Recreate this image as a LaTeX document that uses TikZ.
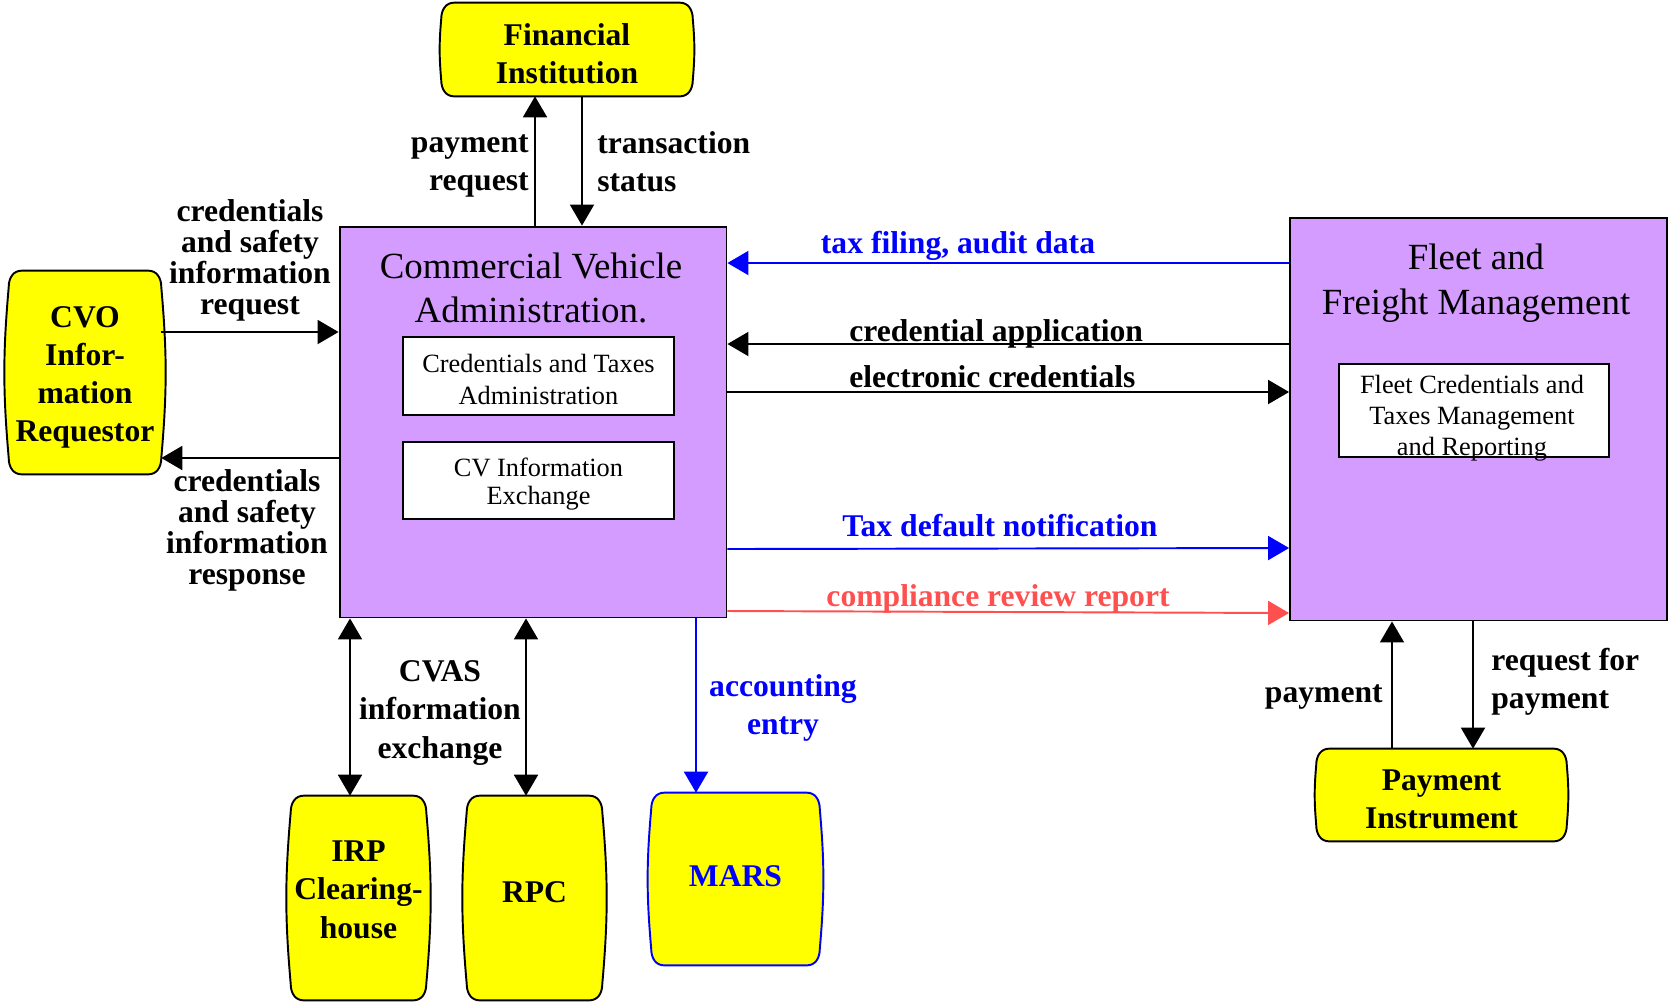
\documentclass[tikz,border=0pt]{standalone}
\usepackage{fontspec}
\setmainfont{Liberation Serif}
\usetikzlibrary{arrows.meta,calc,backgrounds}
\definecolor{cvpurple}{RGB}{213,156,255}
\definecolor{termyellow}{RGB}{255,255,0}
\definecolor{arrblue}{RGB}{0,0,255}
\definecolor{arrred}{RGB}{255,80,80}
\newcommand\termbox[2][black]{%
  \begin{scope}[on background layer]
  \path[draw=#1, fill=termyellow, line width=1.1pt]
    let \p1=(#2.north west), \p2=(#2.south east) in
    (\x1+0.26cm,\y1) -- (\x2-0.26cm,\y1)
    .. controls (\x2-0.1cm,\y1) and (\x2,\y1-0.13cm) .. (\x2,\y1-0.34cm)
    to[bend left=5] (\x2,\y2+0.34cm)
    .. controls (\x2,\y2+0.13cm) and (\x2-0.1cm,\y2) .. (\x2-0.26cm,\y2)
    -- (\x1+0.26cm,\y2)
    .. controls (\x1+0.1cm,\y2) and (\x1,\y2+0.13cm) .. (\x1,\y2+0.34cm)
    to[bend left=5] (\x1,\y1-0.34cm)
    .. controls (\x1,\y1-0.13cm) and (\x1+0.1cm,\y1) .. cycle;
  \end{scope}}
\begin{document}
\begin{tikzpicture}[x=0.02cm,y=-0.02cm,
  arr/.style={line width=1.1pt, -{Triangle[length=0.42cm,width=0.48cm]}},
  darr/.style={line width=1.1pt, {Triangle[length=0.42cm,width=0.48cm]}-{Triangle[length=0.42cm,width=0.48cm]}},
  term/.style={draw=none, inner sep=0pt, align=center, font=\fontsize{18}{21.7}\selectfont\bfseries},
  bigbox/.style={draw, line width=1.1pt, fill=cvpurple, inner sep=0pt},
  subbox/.style={draw, line width=1pt, fill=white, inner sep=0pt, align=center},
  subtext/.style={inner sep=0pt, align=center, font=\fontsize{15}{17.6}\selectfont},
  boxtitle/.style={align=center, inner sep=0pt, font=\fontsize{21}{25.5}\selectfont},
  lbl/.style={align=center, inner sep=0pt, font=\fontsize{18}{21.7}\selectfont\bfseries},
  lbltight/.style={align=center, inner sep=0pt, font=\fontsize{18}{17.6}\selectfont\bfseries},
]
\useasboundingbox (0,0) rectangle (1669,1002);

% main boxes
\node[bigbox, minimum width=7.74cm, minimum height=7.82cm] (cva) at (533,422) {};
\node[boxtitle] (cvat) at (531,288) {Commercial Vehicle\\Administration.};
\node[subbox, font=\fontsize{15}{18}\selectfont, minimum width=5.42cm, minimum height=1.56cm] (cta) at (538.5,376) {\rule{0pt}{14.4pt}Credentials and Taxes\\Administration};
\node[subbox, font=\fontsize{15}{16}\selectfont, minimum width=5.42cm, minimum height=1.54cm] (cvie) at (538.5,480.5) {\rule{0pt}{14.5pt}CV Information\\Exchange};

\node[bigbox, minimum width=7.54cm, minimum height=8.05cm] (fleet) at (1478.5,419.3) {};
\node[boxtitle] (fleett) at (1476,283) {Fleet and\\Freight Management};
\node[subbox, minimum width=5.4cm, minimum height=1.86cm] (fcbox) at (1474,410.5) {};
\node[subtext] (fct) at (1472,418) {Fleet Credentials and\\Taxes Management\\and Reporting};

% terminators
\node[term, minimum width=5.02cm, minimum height=1.86cm] (fi) at (567,49.5) {\rule{0pt}{17.3pt}Financial\\Institution};
\node[term, minimum width=3.04cm, minimum height=4.06cm] (cvo) at (85,372.5) {\rule{0pt}{17.7pt}CVO\\Infor-\\mation\\Requestor};
\node[term, minimum width=2.7cm, minimum height=4.08cm] (irp) at (358.5,898) {IRP\\Clearing-\\house\rule[-9.6pt]{0pt}{0pt}};
\node[term, minimum width=2.7cm, minimum height=4.08cm] (rpc) at (534.5,898) {RPC\rule[-7.3pt]{0pt}{0pt}};
\node[term, text=arrblue, minimum width=3.36cm, minimum height=3.44cm] (mars) at (735.5,879) {MARS\rule[-3.6pt]{0pt}{0pt}};
\node[term, minimum width=5.0cm, minimum height=1.84cm] (pi) at (1441.5,795) {\rule{0pt}{16.7pt}Payment\\Instrument};
\termbox{fi}
\termbox{cvo}
\termbox{irp}
\termbox{rpc}
\termbox[arrblue]{mars}
\termbox{pi}

% labels
\node[lbl, anchor=east, align=right] (lpr) at (529,166) {payment\\request};
\node[lbl, anchor=west, align=left] (lts) at (597,162) {transaction\\status};
\node[lbltight] (lreq) at (250,260.6) {credentials\\and safety\\information\\request};
\node[lbltight] (lresp) at (247,530) {credentials\\and safety\\information\\response};
\node[lbl, text=arrblue] (ltax) at (958,246) {tax filing, audit data};
\node[lbl, anchor=west] (lca) at (849,334) {credential application};
\node[lbl, anchor=west] (lec) at (849,377) {electronic credentials};
\node[lbl, text=arrblue] (ltd) at (1000,526) {Tax default notification};
\node[lbl, text=arrred] (lcr) at (998,599) {compliance review report};
\node[lbl, text=arrblue] (lae) at (783,708) {accounting\\entry};
\node[lbl] (lcvas) at (440,713) {CVAS\\information\\exchange};
\node[lbl, anchor=east] (lpay) at (1383,697) {payment};
\node[lbl, anchor=west, align=left] (lrfp) at (1491,682) {request for\\payment};

% connectors
\draw[arr] (535,0 |- cva.north) -- (535,0 |- fi.south);
\draw[arr] (582,0 |- fi.south) -- (582,0 |- cva.north);
\draw[arr] (cvo.east |- 0,332) -- (cva.west |- 0,332);
\draw[arr] (cva.west |- 0,458) -- (cvo.east |- 0,458);
\draw[arr, arrblue] (fleet.west |- 0,263) -- (cva.east |- 0,263);
\draw[arr] (fleet.west |- 0,344) -- (cva.east |- 0,344);
\draw[arr] (cva.east |- 0,392) -- (fleet.west |- 0,392);
\draw[arr, arrblue] (cva.east |- 0,549) -- (fleet.west |- 0,548);
\draw[arr, arrred] (cva.east |- 0,611) -- (fleet.west |- 0,613);
\draw[arr, arrblue] (696,0 |- cva.south) -- (696,0 |- mars.north);
\draw[darr] (350,0 |- cva.south) -- (350,0 |- irp.north);
\draw[darr] (526,0 |- cva.south) -- (526,0 |- rpc.north);
\draw[arr] (1392,0 |- pi.north) -- (1392,0 |- fleet.south);
\draw[arr] (1473,0 |- fleet.south) -- (1473,0 |- pi.north);
\end{tikzpicture}
\end{document}
